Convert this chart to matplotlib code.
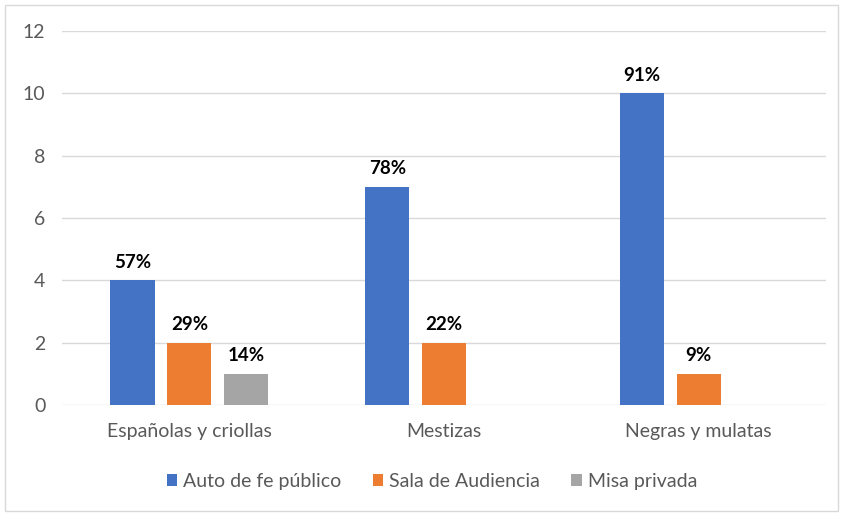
import numpy as np
import matplotlib.pyplot as plt
import matplotlib.patches as patches

plt.rcParams['font.family'] = ['Lato', 'DejaVu Sans']

categories = ['Españolas y criollas', 'Mestizas', 'Negras y mulatas']
series = ['Auto de fe público', 'Sala de Audiencia', 'Misa privada']
auto_fe = [4, 7, 10]
sala = [2, 2, 1]
misa = [1, 0, 0]
pct_auto = ['57%', '78%', '91%']
pct_sala = ['29%', '22%', '9%']
pct_misa = ['14%', '', '']

colors = ['#4472c4', '#ed7d31', '#a5a5a5']

fig = plt.figure(figsize=(8.43, 5.14), dpi=100)
ax = fig.add_axes([0.0735, 0.212, 0.9065, 0.728])

x = np.arange(len(categories))
w = 0.173
step = 0.223

data = [auto_fe, sala, misa]
labels = [pct_auto, pct_sala, pct_misa]
for i, (vals, labs) in enumerate(zip(data, labels)):
  pos = x + (i - 1) * step
  # skip zero bars
  keep = [j for j in range(len(vals)) if vals[j] > 0]
  ax.bar(pos[keep], [vals[j] for j in keep], w, color=colors[i], label=series[i], zorder=3)
  for j in keep:
    ax.text(pos[j], vals[j] + 0.3, labs[j], ha='center', va='bottom',
            fontsize=13.5, fontweight='bold', color='black')

ax.set_xlim(-0.5, 2.5)
ax.set_ylim(0, 12)
ax.set_yticks(range(0, 13, 2))
ax.set_xticks(x)
ax.set_xticklabels(categories)
ax.grid(axis='y', color='#d9d9d9', linewidth=1, zorder=0)
for s in ax.spines.values():
  s.set_visible(False)
ax.tick_params(length=0, labelsize=14, labelcolor='#595959')
ax.tick_params(axis='y', pad=12)
ax.tick_params(axis='x', pad=13)

leg = ax.legend(loc='upper center', bbox_to_anchor=(0.484, -0.135), ncol=3, frameon=False,
                fontsize=14, handlelength=0.55, handleheight=0.55, handletextpad=0.3,
                columnspacing=1.6)
for t in leg.get_texts():
  t.set_color('#595959')

fig.patches.append(patches.Rectangle((0.006, 0.006), 0.988, 0.985, transform=fig.transFigure,
                                     fill=False, edgecolor='#d9d9d9', linewidth=1))

fig.savefig('out.png')
